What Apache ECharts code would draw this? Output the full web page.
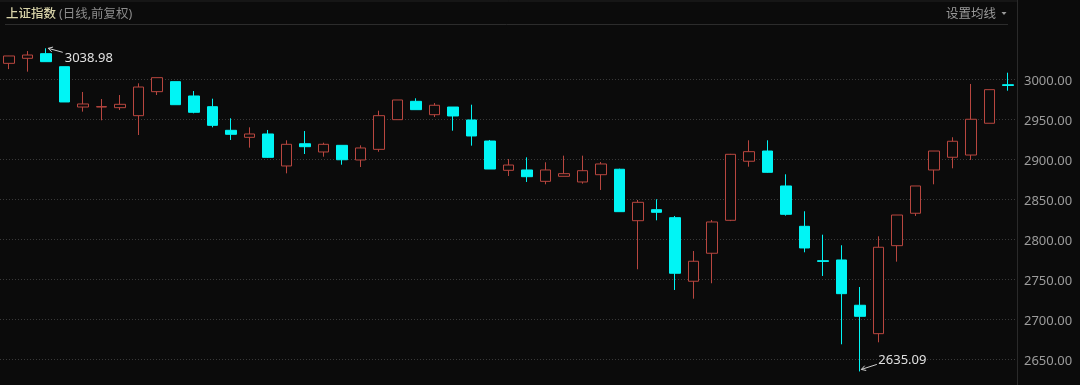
<!DOCTYPE html>
<html>
<head>
<meta charset="utf-8">
<script src="https://cdn.jsdelivr.net/npm/echarts@6/dist/echarts.min.js"></script>
<style>
html,body{margin:0;padding:0;background:#0b0b0b;}
#chart{width:1080px;height:385px;}
</style>
</head>
<body>
<div id="chart"></div>
<script>
// ---- data ----
const categories = Array.from({length: 55}, (_, i) => 'D' + (i + 1));
const openVals  = [3020.2,3026.5,3032.3,3016.0,2965.6,2965.6,2964.8,2954.8,2984.8,2997.3,
                   2979.4,2966.0,2936.5,2927.7,2931.9,2891.9,2919.7,2909.4,2917.7,2899.4,
                   2912.7,2949.8,2972.7,2956.0,2965.6,2949.4,2923.1,2886.5,2886.9,2872.7,
                   2879.0,2871.9,2881.0,2887.8,2823.5,2837.3,2827.3,2747.8,2782.8,2824.0,
                   2897.8,2910.6,2866.9,2816.5,2773.5,2774.4,2717.8,2682.3,2792.3,2832.8,
                   2886.9,2902.8,2905.6,2945.3,2993.5];
const closeVals = [3029.4,3030.6,3022.3,2971.9,2969.4,2966.1,2969.0,2990.6,3002.3,2968.5,
                   2959.0,2942.7,2931.5,2931.9,2902.7,2919.0,2916.0,2919.0,2899.7,2914.4,
                   2954.8,2974.4,2962.3,2967.8,2954.4,2929.4,2888.1,2893.1,2878.5,2886.9,
                   2882.3,2886.0,2894.4,2834.8,2846.5,2834.0,2757.8,2772.8,2821.9,2906.5,
                   2909.8,2884.0,2831.5,2789.4,2772.6,2732.3,2704.0,2790.3,2830.6,2866.9,
                   2910.6,2922.8,2950.3,2987.3,2992.5];
const lowVals   = [3013.0,3009.8,3022.3,2971.9,2959.8,2949.0,2961.9,2930.6,2980.6,2968.5,
                   2957.7,2940.2,2924.4,2914.8,2902.0,2882.7,2906.9,2903.5,2893.5,2890.6,
                   2909.7,2949.8,2962.3,2953.1,2936.0,2917.3,2888.1,2879.4,2871.9,2869.0,
                   2879.0,2869.8,2861.9,2834.8,2762.8,2824.0,2736.9,2726.0,2745.3,2823.0,
                   2891.0,2883.5,2829.8,2784.0,2754.4,2669.0,2635.09,2671.5,2772.3,2829.4,
                   2869.0,2889.0,2899.4,2945.3,2986.0];
const highVals  = [3029.5,3035.6,3038.98,3016.0,2984.4,2975.6,2980.6,2995.2,3002.3,2997.3,
                   2985.6,2976.0,2951.5,2940.2,2936.9,2924.0,2935.6,2921.0,2917.7,2917.7,
                   2961.0,2974.4,2976.5,2970.6,2965.6,2968.5,2924.4,2900.6,2902.7,2896.5,
                   2904.8,2904.8,2896.9,2888.5,2849.4,2850.3,2829.4,2785.6,2824.4,2907.0,
                   2924.0,2924.0,2881.5,2835.3,2806.0,2792.8,2740.6,2804.0,2830.6,2866.9,
                   2910.6,2927.8,2994.4,2987.3,3008.5];
const yMin = 2650, yMax = 3000, yStep = 50;
const highMark = {index: 2, value: 3038.98, label: '3038.98'};
const lowMark  = {index: 46, value: 2635.09, label: '2635.09'};
const titleMain = '上证指数';
const titleSub = '(日线,前复权)';
const menuText = '设置均线';

const candleData = categories.map((c, i) => [openVals[i], closeVals[i], lowVals[i], highVals[i]]);

const UP = '#b8463f', DOWN = '#00f5f5';
const FONT = '"Noto Sans", "Noto Sans CJK SC", sans-serif';

const chart = echarts.init(document.getElementById('chart'), null, {renderer: 'canvas'});
const option = {
  backgroundColor: '#0b0b0b',
  animation: false,
  grid: {left: 0, right: 63, top: 79.5, bottom: 25.5},
  xAxis: {
    type: 'category', data: categories, boundaryGap: true,
    axisLine: {show: false}, axisTick: {show: false}, axisLabel: {show: false}, splitLine: {show: false}
  },
  yAxis: {
    type: 'value', position: 'right', min: yMin, max: yMax, interval: yStep, scale: true,
    axisLine: {show: false}, axisTick: {show: false},
    axisLabel: {margin: 7, formatter: v => '{t|' + v.toFixed(2) + '}',
                rich: {t: {color: '#9c9c9c', fontSize: 13, fontFamily: FONT, padding: [4, 0, 0, 0]}}},
    splitLine: {show: true, lineStyle: {color: '#3a3a3a', type: [1, 2], width: 1}}
  },
  series: [{
    type: 'candlestick',
    data: candleData,
    barWidth: 11,
    clip: false,
    itemStyle: {
      color: '#0b0b0b', color0: DOWN,
      borderColor: UP, borderColor0: DOWN, borderWidth: 1
    }
  }]
};
chart.setOption(option);

function arrow(head, tail) {
  const dx = head[0] - tail[0], dy = head[1] - tail[1];
  const len = Math.hypot(dx, dy), ux = dx / len, uy = dy / len;
  const a = Math.PI / 6, L = 5;
  const r = (ang) => [head[0] - L * (ux * Math.cos(ang) - uy * Math.sin(ang)),
                      head[1] - L * (ux * Math.sin(ang) + uy * Math.cos(ang))];
  return [
    {type: 'line', shape: {x1: tail[0], y1: tail[1], x2: head[0], y2: head[1]},
     style: {stroke: '#cfcfcf', lineWidth: 1}},
    {type: 'polyline', shape: {points: [r(a), head, r(-a)]},
     style: {stroke: '#cfcfcf', lineWidth: 1, fill: null}}
  ];
}

const ph = chart.convertToPixel({seriesIndex: 0}, [highMark.index, highMark.value]);
const pl = chart.convertToPixel({seriesIndex: 0}, [lowMark.index, lowMark.value]);

const graphics = [
  {type: 'line', shape: {x1: 0, y1: 1, x2: 1017, y2: 1}, style: {stroke: '#222', lineWidth: 1}},
  {type: 'line', shape: {x1: 5, y1: 24.5, x2: 1008, y2: 24.5}, style: {stroke: '#2c2c2c', lineWidth: 1}},
  {type: 'line', shape: {x1: 1017.5, y1: 0, x2: 1017.5, y2: 385}, style: {stroke: '#2a2a2a', lineWidth: 1}},
  {type: 'text', x: 6, y: 14.5, style: {text: titleMain, fill: '#d8d3a8', font: '500 12.5px ' + FONT, textVerticalAlign: 'middle'}},
  {type: 'text', x: 59, y: 14.5, style: {text: titleSub, fill: '#8c8c8c', font: '12.5px ' + FONT, textVerticalAlign: 'middle'}},
  {type: 'text', x: 946, y: 14.5, style: {text: menuText, fill: '#9a9a9a', font: '12.5px ' + FONT, textVerticalAlign: 'middle'}},
  {type: 'polygon', shape: {points: [[1001.5, 12], [1006.5, 12], [1004, 15]]}, style: {fill: '#9a9a9a'}},
  ...arrow([ph[0] + 2, ph[1]], [ph[0] + 16.5, ph[1] + 4]),
  {type: 'text', x: ph[0] + 18.5, y: ph[1] + 10, style: {text: highMark.label, fill: '#e0e0e0', font: '13px ' + FONT, textVerticalAlign: 'middle'}},
  ...arrow([pl[0] + 1.5, pl[1] - 2], [pl[0] + 17, pl[1] - 7]),
  {type: 'text', x: pl[0] + 18.5, y: pl[1] - 11, style: {text: lowMark.label, fill: '#e0e0e0', font: '13px ' + FONT, textVerticalAlign: 'middle'}}
];
chart.setOption({graphic: graphics});
</script>
</body>
</html>
